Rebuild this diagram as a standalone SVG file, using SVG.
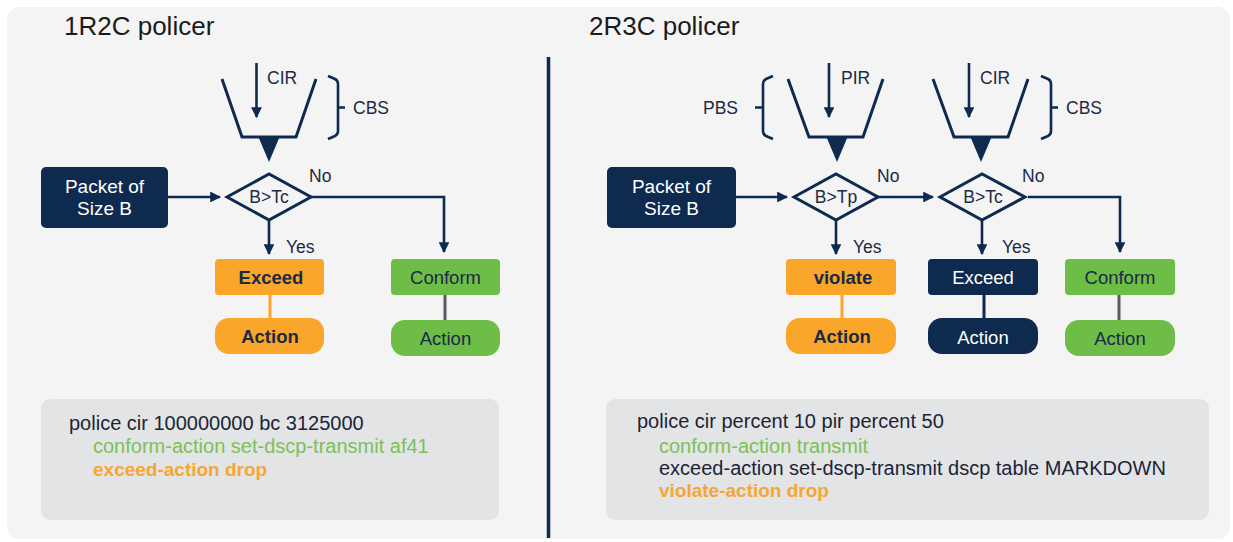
<svg xmlns="http://www.w3.org/2000/svg" width="1233" height="542" viewBox="0 0 1233 542">
<defs>
<marker id="ah" viewBox="0 0 10 10" refX="9" refY="5" markerWidth="4.2" markerHeight="4.2" markerUnits="strokeWidth" orient="auto">
<path d="M0,0 L10,5 L0,10 z" fill="#0e2a4f"/>
</marker>
<style>
text{font-family:"Liberation Sans",Arial,sans-serif;}
.title{font-size:26px;fill:#1b1b1b;}
.lbl{font-size:17.5px;fill:#1b2a44;}
.wlbl{font-size:19px;fill:#ffffff;text-anchor:middle;}
.boxt{font-size:18.5px;text-anchor:middle;fill:#1b2a44;}
.bold{font-weight:bold;}
.code{font-size:20px;}
.codeb{font-size:19px;font-weight:bold;}
.line{stroke:#0e2a4f;stroke-width:3;fill:none;}
.arr{stroke:#0e2a4f;stroke-width:2.6;fill:none;marker-end:url(#ah);}
.brace{stroke:#0e2a4f;stroke-width:2.6;fill:none;}
.navy{fill:#0e2a4f;}
.orange{fill:#f9a62b;}
.green{fill:#6dbd47;}
.codebox{fill:#e3e4e6;}
</style>
</defs>
<rect x="0" y="0" width="1233" height="542" fill="#ffffff"/>
<rect x="7" y="7" width="1223" height="532" rx="12" fill="#f4f4f4"/>
<line x1="548.5" y1="57" x2="548.5" y2="538" stroke="#0e2a4f" stroke-width="3.5"/>

<text class="title" x="64" y="35">1R2C policer</text>
<text class="title" x="589" y="35">2R3C policer</text>

<!-- 1R2C -->
<g id="bucket1">
<path class="line" d="M222,79 L242,137 L296,137 L316,79"/>
<path class="navy" d="M258,136 L280,136 L269,162 z"/>
<line class="arr" x1="256.5" y1="63" x2="256.5" y2="117"/>
<text class="lbl" x="267" y="84">CIR</text>
<path class="brace" d="M328,76 L335,79 Q338,80.5 338,84 V131 Q338,134.5 335,136 L328,139 M338,107.5 H345"/>
<text class="lbl" x="353" y="114">CBS</text>
</g>
<g id="packet1">
<rect class="navy" x="41" y="167" width="127" height="61" rx="5"/>
<text class="wlbl" x="104.5" y="193">Packet of</text>
<text class="wlbl" x="104.5" y="215">Size B</text>
</g>
<g id="decision1">
<path class="line" fill="none" d="M227,197 L269,174 L311,197 L269,220 z"/>
<text class="lbl" x="269" y="203" text-anchor="middle">B&gt;Tc</text>
<text class="lbl" x="309" y="182">No</text>
<text class="lbl" x="286" y="253">Yes</text>
</g>
<g id="exceed1">
<rect class="orange" x="215" y="259" width="109" height="36" rx="4"/>
<text class="boxt bold" x="271" y="284">Exceed</text>
</g>
<g id="exceedAction1">
<rect class="orange" x="215" y="318" width="109" height="36" rx="14"/>
<text class="boxt bold" x="270" y="343">Action</text>
</g>
<g id="conform1">
<rect class="green" x="391" y="259" width="109" height="36" rx="4"/>
<text class="boxt" x="445.5" y="284">Conform</text>
</g>
<g id="conformAction1">
<rect class="green" x="391" y="320" width="109" height="36" rx="14"/>
<text class="boxt" x="445.5" y="345">Action</text>
</g>
<g id="code1">
<rect class="codebox" x="41" y="399" width="458" height="121" rx="9"/>
<text class="code" x="69" y="430" fill="#1b2437">police cir 100000000 bc 3125000</text>
<text class="code" x="93" y="453" fill="#7cc05a">conform-action set-dscp-transmit af41</text>
<text class="codeb" x="93" y="476" fill="#f5a633">exceed-action drop</text>
</g>

<!-- 2R3C -->
<g id="bucketP">
<path class="line" d="M788,79 L809,137 L863,137 L883,79"/>
<path class="navy" d="M826,136 L848,136 L837,162 z"/>
<line class="arr" x1="829" y1="63" x2="829" y2="117"/>
<text class="lbl" x="841" y="84">PIR</text>
<path class="brace" d="M773,76 L766,79 Q763,80.5 763,84 V131 Q763,134.5 766,136 L773,139 M763,107.5 H755"/>
<text class="lbl" x="703" y="114">PBS</text>
</g>
<g id="bucketC">
<path class="line" d="M933,79 L954,137 L1008,137 L1028,79"/>
<path class="navy" d="M970,136 L992,136 L981,162 z"/>
<line class="arr" x1="969" y1="63" x2="969" y2="117"/>
<text class="lbl" x="980" y="84">CIR</text>
<path class="brace" d="M1041,76 L1048,79 Q1051,80.5 1051,84 V131 Q1051,134.5 1048,136 L1041,139 M1051,107.5 H1058"/>
<text class="lbl" x="1066" y="114">CBS</text>
</g>
<g id="packet2">
<rect class="navy" x="607" y="167" width="129" height="61" rx="5"/>
<text class="wlbl" x="671.5" y="193">Packet of</text>
<text class="wlbl" x="671.5" y="215">Size B</text>
</g>
<g id="decisionP">
<path class="line" d="M794,197 L836,174 L878,197 L836,220 z"/>
<text class="lbl" x="836" y="203" text-anchor="middle">B&gt;Tp</text>
<text class="lbl" x="877" y="182">No</text>
<text class="lbl" x="853" y="253">Yes</text>
</g>
<g id="decisionC">
<path class="line" d="M940,197 L982,174 L1025,197 L982,220 z"/>
<text class="lbl" x="983" y="203" text-anchor="middle">B&gt;Tc</text>
<text class="lbl" x="1022" y="182">No</text>
<text class="lbl" x="1002" y="253">Yes</text>
</g>
<g id="violate2">
<rect class="orange" x="786" y="259" width="110" height="36" rx="4"/>
<text class="boxt bold" x="843" y="284">violate</text>
</g>
<g id="violateAction2">
<rect class="orange" x="786" y="318" width="110" height="36" rx="14"/>
<text class="boxt bold" x="842" y="343">Action</text>
</g>
<g id="exceed2">
<rect class="navy" x="928" y="259" width="110" height="36" rx="4"/>
<text class="boxt" x="983" y="284" style="fill:#ffffff">Exceed</text>
</g>
<g id="exceedAction2">
<rect class="navy" x="928" y="318" width="110" height="36" rx="14"/>
<text class="boxt" x="983" y="344" style="fill:#ffffff">Action</text>
</g>
<g id="conform2">
<rect class="green" x="1065" y="259" width="110" height="36" rx="4"/>
<text class="boxt" x="1120" y="284">Conform</text>
</g>
<g id="conformAction2">
<rect class="green" x="1065" y="320" width="110" height="36" rx="14"/>
<text class="boxt" x="1120" y="345">Action</text>
</g>
<g id="code2">
<rect class="codebox" x="606" y="399" width="603" height="121" rx="9"/>
<text class="code" x="637" y="428" fill="#1b2437">police cir percent 10 pir percent 50</text>
<text class="code" x="659" y="453" fill="#7cc05a">conform-action transmit</text>
<text class="code" x="659" y="475" fill="#1b2437">exceed-action set-dscp-transmit dscp table MARKDOWN</text>
<text class="codeb" x="659" y="497" fill="#f5a633">violate-action drop</text>
</g>

<g id="connectors">
<line class="arr" x1="168" y1="197" x2="220" y2="197"/>
<line class="arr" x1="269" y1="220" x2="269" y2="254"/>
<polyline class="arr" points="311,197 444,197 444,252"/>
<line x1="270" y1="295" x2="270" y2="318" stroke="#f9a62b" stroke-width="3"/>
<line x1="445" y1="295" x2="445" y2="320" stroke="#555b63" stroke-width="3"/>

<line class="arr" x1="736" y1="197" x2="787" y2="197"/>
<line class="arr" x1="878" y1="197" x2="933" y2="197"/>
<line class="arr" x1="836" y1="220" x2="836" y2="254"/>
<line class="arr" x1="982" y1="220" x2="982" y2="254"/>
<polyline class="arr" points="1028,197 1120,197 1120,252"/>
<line x1="842" y1="295" x2="842" y2="318" stroke="#f9a62b" stroke-width="3"/>
<line x1="984" y1="295" x2="984" y2="318" stroke="#0e2a4f" stroke-width="3"/>
<line x1="1119" y1="295" x2="1119" y2="320" stroke="#555b63" stroke-width="3"/>
</g>
</svg>
